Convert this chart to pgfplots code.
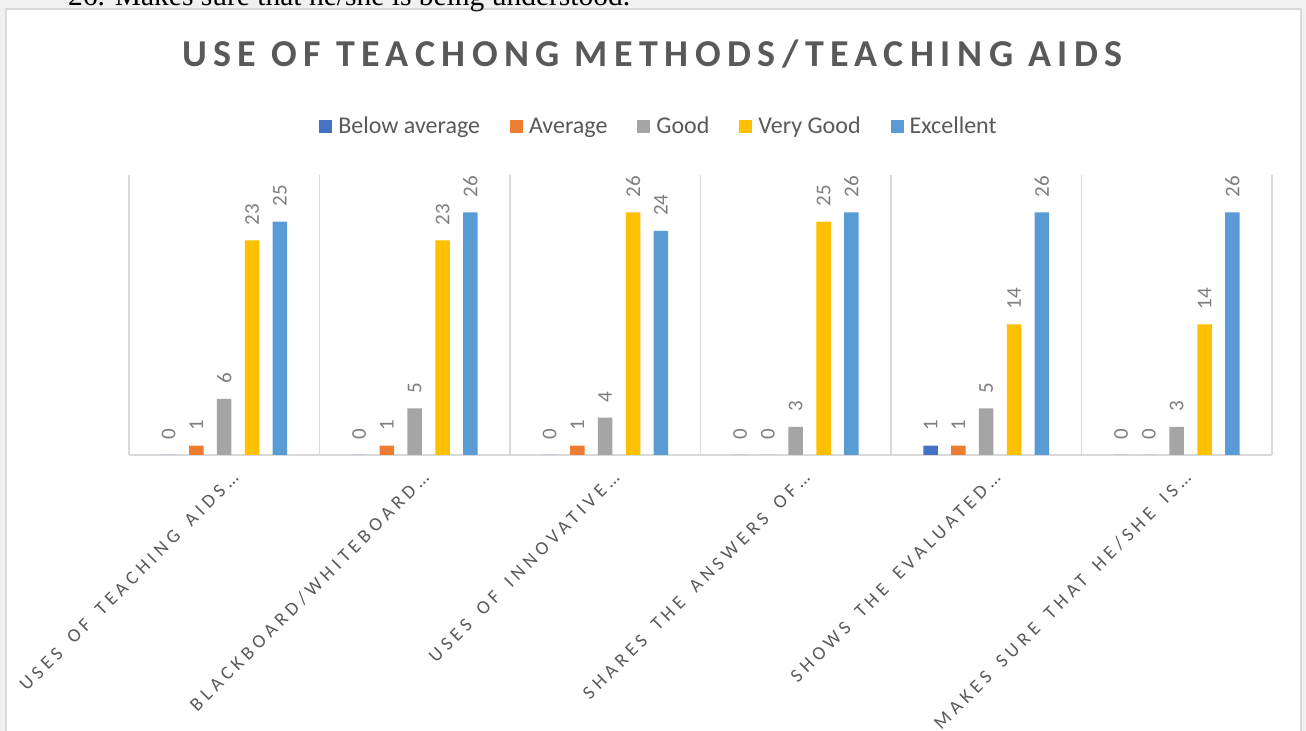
\documentclass[border=0pt]{standalone}
\usepackage{fontspec}
\setmainfont{Carlito}
\newfontfamily\titlefont[LetterSpace=17]{Carlito}
\newfontfamily\tickfont[LetterSpace=24, WordSpace=1.6]{Carlito}
\newfontfamily\seriffont{Liberation Serif}
\usepackage{pgfplots}
\pgfplotsset{compat=1.18}
\definecolor{cBelow}{HTML}{4472C4}
\definecolor{cAvg}{HTML}{ED7D31}
\definecolor{cGood}{HTML}{A5A5A5}
\definecolor{cVGood}{HTML}{FFC000}
\definecolor{cExc}{HTML}{5B9BD5}
\definecolor{titlegray}{HTML}{595959}
\definecolor{labelgray}{HTML}{7F7F7F}
\definecolor{gridgray}{HTML}{D9D9D9}
\definecolor{bggray}{HTML}{F0F0F0}
\pgfplotsset{mylegend/.style={legend image code/.code={\fill[##1,draw=none] (0bp,-1.5bp) rectangle (13bp,11.5bp);}}}
\begin{document}
\begin{tikzpicture}
\useasboundingbox (0,0) rectangle (1306bp,731bp);
\clip (0,0) rectangle (1306bp,731bp);
\fill[bggray] (0,0) rectangle (1306bp,731bp);
\draw[line width=1.5bp, draw=gridgray, fill=white] (6bp,-10bp) rectangle (1301bp,722bp);
\node[anchor=base west, inner sep=0, font=\seriffont\fontsize{29.5bp}{35bp}\selectfont] at (68bp,725bp) {26. Makes sure that he/she is being understood.};
\node[anchor=base, inner sep=0, font=\titlefont\bfseries\fontsize{38bp}{44bp}\selectfont, text=titlegray] at (652.5bp,664bp) {USE OF TEACHONG METHODS/TEACHING AIDS};
\begin{axis}[
  at={(129bp,276bp)}, anchor=south west, scale only axis,
  width=1143bp, height=280bp,
  /pgf/number format/assume math mode=true,
  ybar=13.3bp, bar width=14.5bp,
  xmin=-0.5, xmax=5.5, ymin=0, ymax=30,
  xtick={0,1,2,3,4,5},
  xticklabels={{USES OF TEACHING AIDS…},{BLACKBOARD/WHITEBOARD…},{USES OF INNOVATIVE…},{SHARES THE ANSWERS OF…},{SHOWS THE EVALUATED…},{MAKES SURE THAT HE/SHE IS…}},
  minor xtick={-0.5,0.5,1.5,2.5,3.5,4.5,5.5},
  xminorgrids, minor grid style={draw=gridgray, line width=1.2bp},
  major tick length=0pt, minor tick length=0pt,
  ytick=\empty,
  axis x line*=bottom, axis y line=none,
  x axis line style={draw=gridgray, line width=1.5bp, -},
  xticklabel style={font=\tickfont\fontsize{19bp}{22bp}\selectfont, text=titlegray, xshift=11bp, yshift=-20bp, rotate=45, anchor=east, inner sep=0pt},
  nodes near coords,
  every node near coord/.append style={rotate=90, anchor=west, font=\fontsize{21bp}{24bp}\selectfont, text=labelgray, inner xsep=15bp, inner ysep=0pt},
  clip=false,
  legend columns=5,
  legend style={draw=none, fill=none, at={(0.4637,1.164)}, anchor=center, font=\fontsize{24bp}{28bp}\selectfont, text=titlegray,
    nodes={text height=0.72em, text depth=0.22em},
    /tikz/every odd column/.append style={column sep=4bp},
    /tikz/every even column/.append style={column sep=28bp}},
  legend cell align=left,
]
\addplot[fill=cBelow, draw=none, mylegend] coordinates {(0,0) (1,0) (2,0) (3,0) (4,1) (5,0)};
\addplot[fill=cAvg, draw=none, mylegend] coordinates {(0,1) (1,1) (2,1) (3,0) (4,1) (5,0)};
\addplot[fill=cGood, draw=none, mylegend] coordinates {(0,6) (1,5) (2,4) (3,3) (4,5) (5,3)};
\addplot[fill=cVGood, draw=none, mylegend] coordinates {(0,23) (1,23) (2,26) (3,25) (4,14) (5,14)};
\addplot[fill=cExc, draw=none, mylegend] coordinates {(0,25) (1,26) (2,24) (3,26) (4,26) (5,26)};
\legend{Below average, Average, Good, Very Good, Excellent}
\end{axis}
\end{tikzpicture}
\end{document}
